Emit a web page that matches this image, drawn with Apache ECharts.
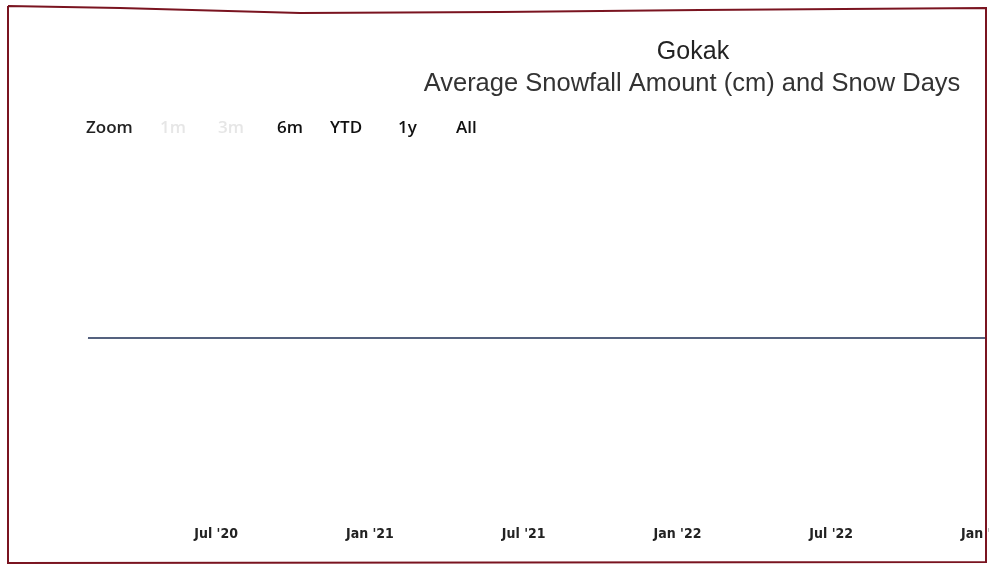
<!DOCTYPE html>
<html>
<head>
<meta charset="utf-8">
<script src="https://cdn.jsdelivr.net/npm/echarts@6/dist/echarts.min.js"></script>
<style>
html,body{margin:0;padding:0;background:#fff;}
#chart{width:989px;height:566px;}
</style>
</head>
<body>
<div id="chart"></div>
<script>
// Data
var months = ["Feb '20","Mar '20","Apr '20","May '20","Jun '20","Jul '20","Aug '20","Sep '20","Oct '20","Nov '20","Dec '20",
  "Jan '21","Feb '21","Mar '21","Apr '21","May '21","Jun '21","Jul '21","Aug '21","Sep '21","Oct '21","Nov '21","Dec '21",
  "Jan '22","Feb '22","Mar '22","Apr '22","May '22","Jun '22","Jul '22","Aug '22","Sep '22","Oct '22","Nov '22","Dec '22",
  "Jan '23"];
var snowfallCm = [0,0,0,0,0,0,0,0,0,0,0, 0,0,0,0,0,0,0,0,0,0,0,0, 0,0,0,0,0,0,0,0,0,0,0,0, 0];
var snowDays   = [0,0,0,0,0,0,0,0,0,0,0, 0,0,0,0,0,0,0,0,0,0,0,0, 0,0,0,0,0,0,0,0,0,0,0,0, 0];
var tickLabels = ["Jul '20","Jan '21","Jul '21","Jan '22","Jul '22","Jan '23"];
var rangeButtons = ["1m","3m","6m","YTD","1y","All"];
var disabledButtons = ["1m","3m"];

var chart = echarts.init(document.getElementById('chart'));

var btnX = [160, 218, 277, 330, 398, 456];
var graphics = [
  {type:'text', left:86, top:120, style:{text:'Zoom', font:'600 17px "Open Sans"', fill:'#222'}}
];
rangeButtons.forEach(function(b, i){
  graphics.push({type:'text', left:btnX[i], top:120, style:{text:b, font:'600 17px "Open Sans"',
    fill: disabledButtons.indexOf(b) >= 0 ? '#e6e6e6' : '#111'}});
});
// photo frame
graphics.push({type:'polyline', shape:{points:[[8,6],[120,8],[300,13],[500,12],[700,10],[986,8],[986,562],[8,563],[8,6]]},
  style:{stroke:'#7a1420', lineWidth:2, fill:null}, silent:true, z:100});

chart.setOption({
  animation:false,
  title:[
    {text:'Gokak', left:688, top:35, textAlign:'center',
     textStyle:{fontFamily:'Liberation Sans', fontSize:25, fontWeight:'normal', color:'#222'}},
    {text:'Average Snowfall Amount (cm) and Snow Days', left:687, top:66, textAlign:'center',
     textStyle:{fontFamily:'Liberation Sans', fontSize:25.5, fontWeight:'normal', color:'#333'}}
  ],
  graphic: graphics,
  grid:{left:88, right:4, top:164, bottom:54, containLabel:false, outerBoundsMode:'none'},
  xAxis:{
    type:'category', data:months, boundaryGap:false,
    axisLine:{show:true, lineStyle:{color:'#ececec'}},
    axisTick:{show:false},
    splitLine:{show:false},
    axisLabel:{
      interval:function(idx, val){ return tickLabels.indexOf(val) >= 0; },
      fontFamily:'"DejaVu Sans Condensed", "Liberation Sans"', fontWeight:'bold', fontSize:14, color:'#222', margin:15,
      showMaxLabel:true, hideOverlap:false
    }
  },
  yAxis:{type:'value', min:-1, max:1, show:false, splitLine:{show:false}},
  series:[
    {name:'Snowfall (cm)', type:'line', data:snowfallCm, showSymbol:false, lineStyle:{color:'#5c6b8c', width:2}},
    {name:'Snow Days', type:'line', data:snowDays, showSymbol:false, lineStyle:{color:'#55627f', width:2}}
  ]
});
</script>
</body>
</html>
